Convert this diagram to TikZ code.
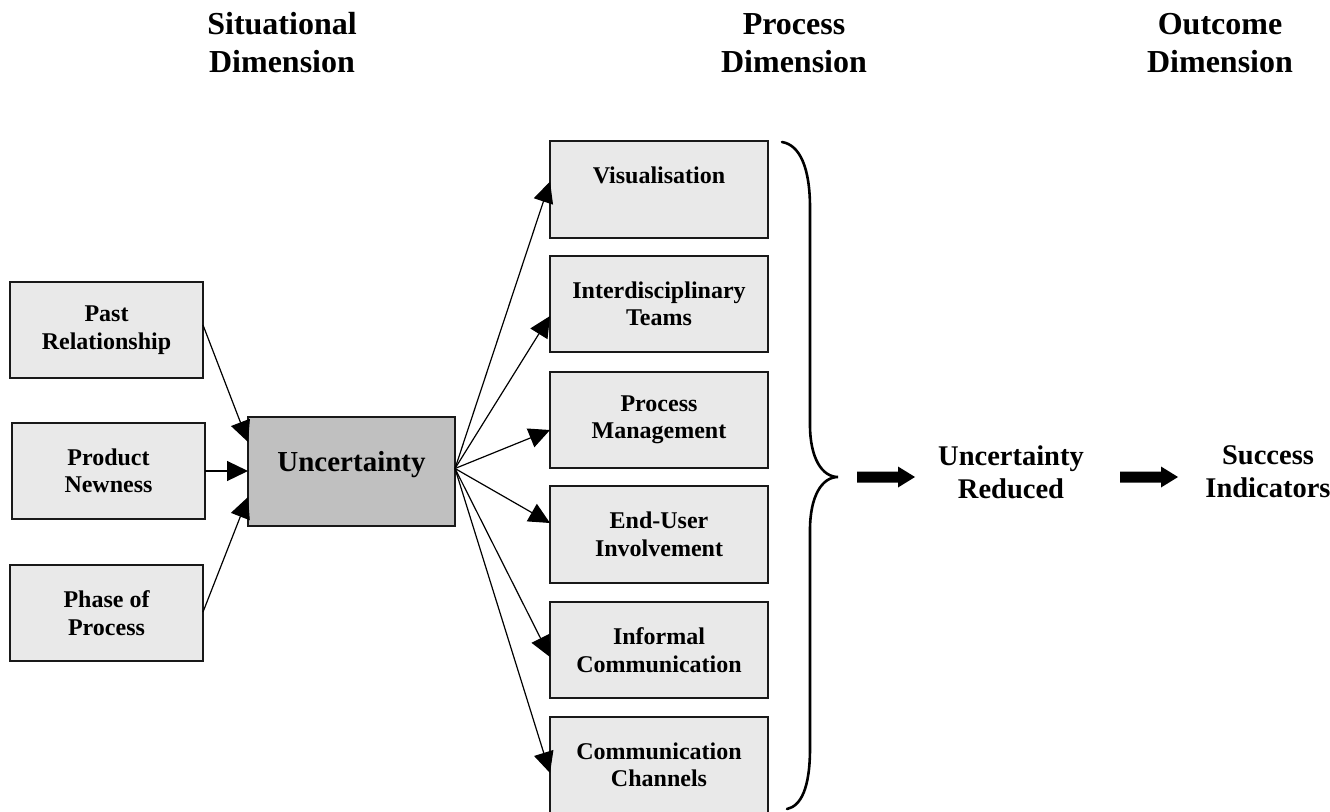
\documentclass[tikz,border=0pt]{standalone}
\usepackage{fontspec}
\setmainfont{Liberation Serif}
\usetikzlibrary{arrows.meta,calc}
\definecolor{boxfill}{RGB}{233,233,233}
\definecolor{uncfill}{RGB}{192,192,192}
\definecolor{edge}{RGB}{25,25,25}

\begin{document}
\begin{tikzpicture}[x=1pt,y=-1pt,
  factor/.style={draw=edge, line width=1.3pt, fill=boxfill, inner sep=0pt, outer sep=0pt,
    align=center, font=\fontsize{24}{27.5}\selectfont\bfseries},
  leftbox/.style={factor, minimum width=193pt, minimum height=96pt},
  rightbox/.style={factor, minimum width=218pt, minimum height=96pt},
  corebox/.style={factor, fill=uncfill, minimum width=207pt, minimum height=109pt,
    text height=20pt, text depth=21pt, font=\fontsize{29}{33}\selectfont\bfseries},
  heading/.style={align=center, inner sep=0pt, font=\fontsize{32}{38}\selectfont\bfseries},
  result/.style={align=center, inner sep=0pt, font=\fontsize{28.5}{33}\selectfont\bfseries},
  conn/.style={draw=black, line width=1.2pt, -{Triangle[length=21pt,width=20pt]}},
  fatarrow/.pic={\fill[black] (0,-5.5) -- (41,-5.5) -- (41,-10.5) -- (58,0)
    -- (41,10.5) -- (41,5.5) -- (0,5.5) -- cycle;}
]
\useasboundingbox (0,0) rectangle (1330,811);

% column headings
\node[heading] (hsit)  at (282,43)  {Situational\\Dimension};
\node[heading] (hproc) at (794,43)  {Process\\Dimension};
\node[heading] (hout)  at (1220,43) {Outcome\\Dimension};

% situational factors
\node[leftbox] (past)  at (106.5,330) {Past\\Relationship};
\node[leftbox] (prod)  at (108.5,471) {Product\\Newness};
\node[leftbox] (phase) at (106.5,613) {Phase of\\Process};

% central box
\node[corebox] (unc) at (351.5,471.5) {Uncertainty};

% process factors
\node[rightbox, minimum height=97pt, text height=17pt, text depth=30pt] (vis) at (659,189.5) {Visualisation};
\node[rightbox] (inter)    at (659,304)   {Interdisciplinary\\Teams};
\node[rightbox] (proc)     at (659,420)   {Process\\Management};
\node[rightbox, minimum height=97pt] (enduser) at (659,534.5) {End-User\\Involvement};
\node[rightbox] (informal) at (659,650)   {Informal\\Communication};
\node[rightbox] (channels) at (659,765)   {Communication\\Channels};

% inputs to uncertainty
\draw[conn] ([yshift=5pt]past.east) -- ([yshift=29.5pt]unc.west);
\draw[conn] (prod.east) -- (prod.east -| unc.west);
\draw[conn] ([yshift=1pt]phase.east) -- ([yshift=-25.5pt]unc.west);

% uncertainty to process factors
\coordinate (src) at ([yshift=3pt]unc.east);
\draw[conn] (src) -- ([yshift=8pt]vis.west);
\draw[conn] (src) -- ([yshift=-12pt]inter.west);
\draw[conn] (src) -- ([yshift=-10pt]proc.west);
\draw[conn] (src) -- ([yshift=11.5pt]enduser.west);
\draw[conn] (src) -- ([yshift=-7pt]informal.west);
\draw[conn] (src) -- ([yshift=-8pt]channels.west);

% brace grouping the process factors
\coordinate (brtip) at (838,477);
\draw[line width=2.6pt, line cap=round]
  (782,142) .. controls (800,145) and (810,168) .. (810,208)
  -- (810,425) .. controls (810,458) and (822,477) .. (brtip)
  .. controls (822,477) and (810,496) .. (810,530)
  -- (810,748) .. controls (810,788) and (801,806) .. (787,809);

% outcomes
\node[result] (ured) at (1011,472) {Uncertainty\\Reduced};
\node[result] (succ) at (1268,472) {Success\\Indicators};

\coordinate (a1) at ($(brtip)+(19,0)$);
\coordinate (a2) at (1120,477);
\pic at (a1) {fatarrow};
\pic at (a2) {fatarrow};
\end{tikzpicture}
\end{document}
